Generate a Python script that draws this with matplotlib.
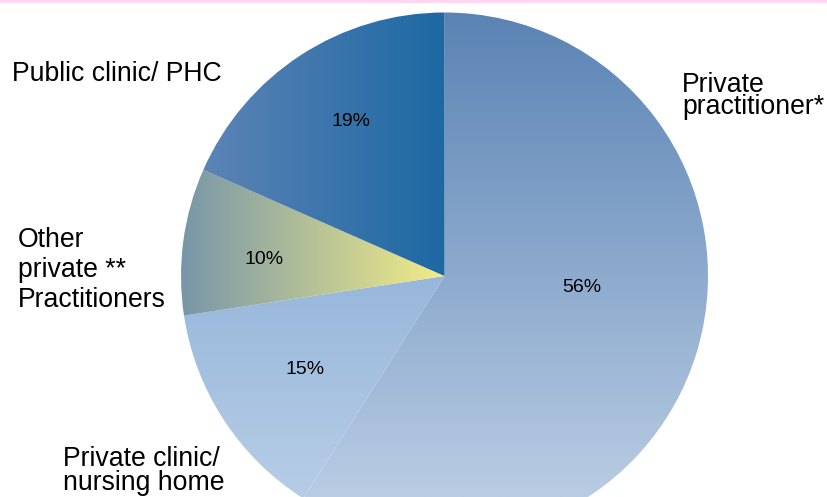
import matplotlib.pyplot as plt
import numpy as np
from matplotlib.colors import LinearSegmentedColormap

plt.rcParams["font.family"] = ["Liberation Sans", "DejaVu Sans"]

# ----------------------------- data ------------------------------------
names = ["Private\npractitioner*", "Private clinic/\nnursing home",
         "Other\nprivate **\nPractitioners", "Public clinic/ PHC"]
sizes = [59.0, 13.6, 9.0, 18.4]          # wedge shares as drawn
pct_labels = ["56%", "15%", "10%", "19%"]  # printed values

# ----------------------------- layout ----------------------------------
W, H = 827, 497
CX, CY, R = 444.5, H - 276, 263.5

# gradient (start colour, end colour, direction) per wedge
fills = [
    ("#b9cce3", "#5a83b4", "v"),   # bottom -> top
    ("#b7cde6", "#97b7db", "v"),
    ("#7896a8", "#f3ed86", "h"),   # left -> right
    ("#5d84b6", "#1d68a3", "h"),
]
# text anchors (x, baseline of last line) in pixels from top-left
name_pos = [(682, 114, 0.82), (63, 490, 0.9), (18, 307, 1.2), (12.5, 80.7, 1.0)]
pct_pos = [(582, 287), (305, 370), (264, 260), (351, 122)]

fig = plt.figure(figsize=(W / 100, H / 100), dpi=100)
ax = fig.add_axes([0, 0, 1, 1])

wedges, _ = ax.pie(sizes, startangle=90, counterclock=False,
                   center=(CX, CY), radius=R,
                   wedgeprops=dict(linewidth=0, antialiased=True))

for w, (c0, c1, d) in zip(wedges, fills):
    w.set_facecolor("none")
    cmap = LinearSegmentedColormap.from_list("g", [c0, c1])
    if d == "h":
        grad = np.linspace(0, 1, 256)[None, :]
    else:
        grad = np.linspace(0, 1, 256)[:, None]
    bb = w.get_path().get_extents(w.get_patch_transform())
    x0, x1 = bb.x0, bb.x1
    y0, y1 = max(bb.y0, 0), bb.y1
    im = ax.imshow(grad, cmap=cmap, extent=(x0, x1, y0, y1),
                   origin="lower", aspect="auto", interpolation="bilinear")
    im.set_clip_path(w)

for name, (x, y, ls) in zip(names, name_pos):
    ax.text(x, H - y, name, ha="left", va="baseline", fontsize=19.2,
            linespacing=ls, color="black")

for lab, (x, y) in zip(pct_labels, pct_pos):
    ax.text(x, H - y, lab, ha="center", va="center", fontsize=14,
            color="black")

# pink rule at the very top
ax.axhspan(H - 3, H, color="#ffd6f1", lw=0)

ax.set_xlim(0, W)
ax.set_ylim(0, H)
ax.set_aspect("equal")
ax.axis("off")

fig.savefig("out.png", dpi=100)
